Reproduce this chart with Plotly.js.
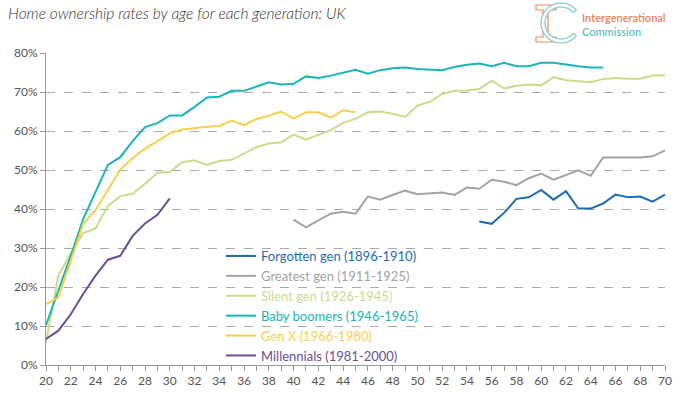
<!DOCTYPE html>
<html>
<head>
<meta charset="utf-8">
<script src="https://cdn.plot.ly/plotly-3.0.1.min.js"></script>
<style>
html,body{margin:0;padding:0;background:#fff;}
#chart{width:681px;height:397px;}
</style>
</head>
<body>
<div id="chart"></div>
<script>
// ---- DATA (home ownership rate, %) ----
const forgottenAges = [55,56,57,58,59,60,61,62,63,64,65,66,67,68,69,70];
const forgottenVals = [36.8,36.2,39.0,42.6,43.0,44.9,42.4,44.6,40.1,40.1,41.4,43.7,43.0,43.2,41.9,43.7];

const greatestAges = [40,41,42,43,44,45,46,47,48,49,50,51,52,53,54,55,56,57,58,59,60,61,62,63,64,65,66,67,68,69,70];
const greatestVals = [37.3,35.3,37.1,38.8,39.3,38.8,43.2,42.4,43.6,44.7,43.8,44.0,44.2,43.6,45.5,45.2,47.5,47.0,46.1,47.9,49.1,47.5,48.8,49.9,48.5,53.2,53.2,53.2,53.2,53.5,55.0];

const silentAges = [20,21,22,23,24,25,26,27,28,29,30,31,32,33,34,35,36,37,38,39,40,41,42,43,44,45,46,47,48,49,50,51,52,53,54,55,56,57,58,59,60,61,62,63,64,65,66,67,68,69,70];
const silentVals = [5.8,22.9,28.6,33.8,35.0,40.8,43.3,43.9,46.5,49.3,49.5,52.0,52.5,51.3,52.3,52.6,54.2,55.9,56.8,57.1,59.1,57.8,59.0,60.2,62.1,63.1,64.8,65.0,64.4,63.6,66.5,67.5,69.5,70.3,70.4,70.8,72.9,70.9,71.6,71.9,71.7,73.8,73.0,72.7,72.5,73.3,73.6,73.4,73.4,74.2,74.3];

const boomerAges = [20,21,22,23,24,25,26,27,28,29,30,31,32,33,34,35,36,37,38,39,40,41,42,43,44,45,46,47,48,49,50,51,52,53,54,55,56,57,58,59,60,61,62,63,64,65];
const boomerVals = [10.2,19.0,28.0,37.4,44.3,51.3,53.3,57.4,61.0,62.0,64.0,64.0,66.2,68.6,68.8,70.3,70.3,71.5,72.5,71.9,72.1,74.0,73.6,74.2,74.9,75.7,74.7,75.6,76.1,76.3,75.9,75.8,75.6,76.4,77.0,77.3,76.6,77.5,76.6,76.6,77.5,77.5,77.0,76.6,76.3,76.3];

const genXAges = [20,21,22,23,24,25,26,27,28,29,30,31,32,33,34,35,36,37,38,39,40,41,42,43,44,45];
const genXVals = [15.6,17.3,26.7,36.2,39.7,44.9,50.1,53.1,55.5,57.4,59.4,60.4,60.8,61.1,61.3,62.7,61.5,63.1,63.9,65.0,63.2,64.8,64.8,63.4,65.3,64.8];

const millAges = [20,21,22,23,24,25,26,27,28,29,30];
const millVals = [6.7,8.8,13.0,18.2,22.9,27.0,28.0,33.1,36.3,38.5,42.7];

const seriesNames = ["Forgotten gen (1896-1910)","Greatest gen (1911-1925)","Silent gen (1926-1945)","Baby boomers (1946-1965)","Gen X (1966-1980)","Millennials (1981-2000)"];
const seriesColors = ["#1b6cb0","#a3a3a3","#cadc8a","#1bb5b4","#f6d04d","#6c4f91"];
const xTickVals = [20,22,24,26,28,30,32,34,36,38,40,42,44,46,48,50,52,54,56,58,60,62,64,66,68,70];
const yTickVals = [0,10,20,30,40,50,60,70,80];
const yTickText = ["0%","10%","20%","30%","40%","50%","60%","70%","80%"];

const allX = [forgottenAges,greatestAges,silentAges,boomerAges,genXAges,millAges];
const allY = [forgottenVals,greatestVals,silentVals,boomerVals,genXVals,millVals];

const traces = allX.map((xs,i)=>({
  type:'scatter', mode:'lines', x:xs, y:allY[i],
  name:'<span style="color:'+seriesColors[i]+'">'+seriesNames[i]+'</span>',
  line:{color:seriesColors[i], width:2},
  hoverinfo:'skip'
}));

// ---- layout geometry ----
const W=681,H=397, L=46, R=16, T=53, B=32;
const PW=W-L-R, PH=H-T-B;
function px(x){return (x-L)/PW;}
function py(y){return (H-B-y)/PH;}

// logo shapes (paper coords converted from pixels)
function pathFrom(points){
  return points.map((p,i)=>(i?'L':'M')+px(p[0]).toFixed(5)+','+py(p[1]).toFixed(5)).join(' ')+' Z';
}
const Ipts = [[536,5],[556,5],[556,10],[548,10],[548,37],[556,37],[556,42],[536,42],[536,37],[543,37],[543,10],[536,10]];
const cx=561, cy=23, ro=20, ri=16, a0=40, a1=320;
const Cpts=[];
for(let a=a0;a<=a1;a+=5){const r=a*Math.PI/180;Cpts.push([cx+ro*Math.cos(r), cy-ro*Math.sin(r)]);}
for(let a=a1;a>=a0;a-=5){const r=a*Math.PI/180;Cpts.push([cx+ri*Math.cos(r), cy-ri*Math.sin(r)]);}

const layout = {
  width:W, height:H,
  margin:{l:L,r:R,t:T,b:B},
  paper_bgcolor:'#fff', plot_bgcolor:'#fff',
  font:{family:'Lato, sans-serif', color:'#555', size:12},
  title:{text:'Home ownership rates by age for each generation: UK',
    x:8/W, xanchor:'left', y:1-14/H, yanchor:'middle',
    font:{family:'Lato, sans-serif', size:15.5, style:'italic', weight:300, color:'#333'}},
  xaxis:{range:[20,70], tickvals:xTickVals, ticks:'outside', ticklen:5, tickcolor:'#999',
    showline:true, linecolor:'#999', linewidth:1, showgrid:false, zeroline:false,
    tickfont:{size:12, color:'#555'},
    minor:{dtick:1, ticks:'outside', ticklen:5, tickcolor:'#999', showgrid:false}},
  yaxis:{range:[0,80], tickvals:yTickVals, ticktext:yTickText, ticks:'outside', ticklen:5, tickcolor:'#999',
    showline:true, linecolor:'#999', linewidth:1, showgrid:true, gridcolor:'#aaa', griddash:'dash', gridwidth:1,
    zeroline:false, tickfont:{size:12, color:'#555'}},
  showlegend:true,
  legend:{x:px(221), xanchor:'left', y:py(241), yanchor:'top', bgcolor:'rgba(0,0,0,0)',
    font:{size:13, family:'Lato, sans-serif'}, tracegroupgap:0, itemwidth:30},
  shapes:[
    {type:'path', xref:'paper', yref:'paper', path:pathFrom(Ipts), line:{color:'#ec8c5a', width:1.2}, fillcolor:'rgba(0,0,0,0)', layer:'above'},
    {type:'path', xref:'paper', yref:'paper', path:pathFrom(Cpts), line:{color:'#7fcaca', width:1.2}, fillcolor:'rgba(255,255,255,0.9)', layer:'above'}
  ],
  annotations:[
    {xref:'paper', yref:'paper', x:px(580), y:py(18), xanchor:'left', yanchor:'middle', showarrow:false,
     text:'Intergenerational', font:{family:'Lato, sans-serif', size:11, color:'#ea8450', weight:600}},
    {xref:'paper', yref:'paper', x:px(580), y:py(31), xanchor:'left', yanchor:'middle', showarrow:false,
     text:'Commission', font:{family:'Lato, sans-serif', size:11, color:'#5fbfbf', weight:600}}
  ]
};

Plotly.newPlot('chart', traces, layout, {displayModeBar:false, staticPlot:true});
</script>
</body>
</html>
